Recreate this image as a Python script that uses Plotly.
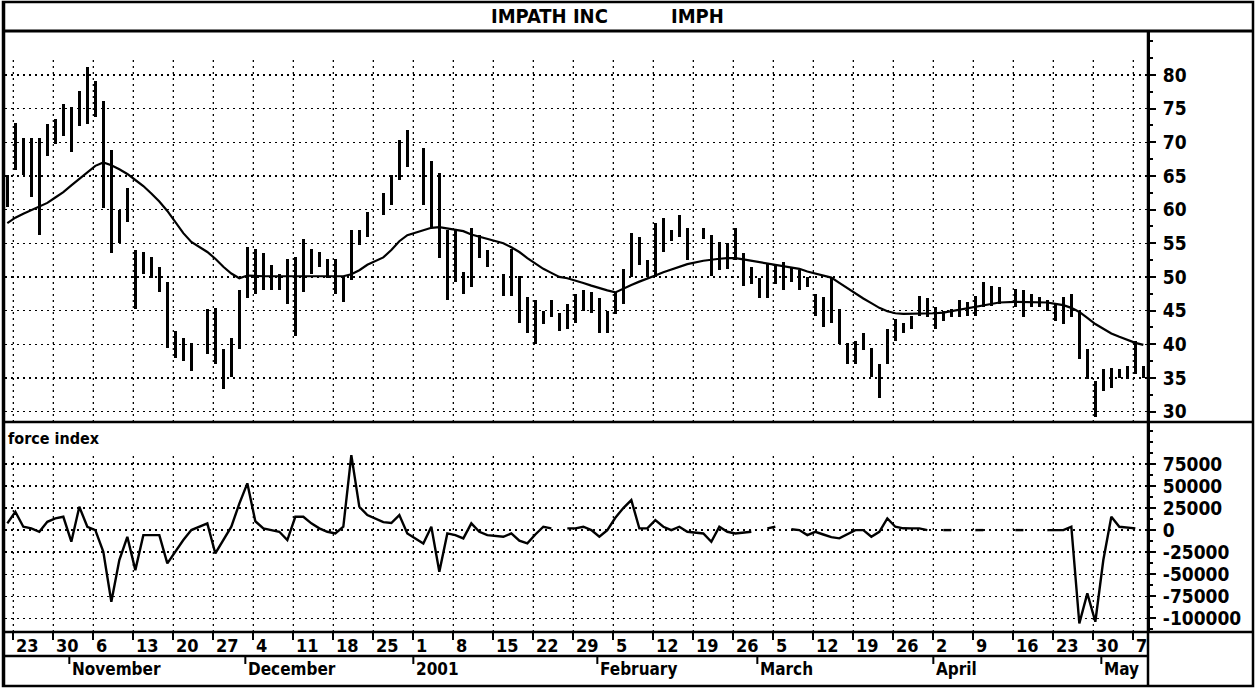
import pandas as pd
import plotly.graph_objects as go
from plotly.subplots import make_subplots

# ---------------- data ----------------
def _m(prefix, days):
    return [f"{prefix}-{d:02d}" for d in days]

dates = (_m("2000-10", [20, 23, 24, 25, 26, 27, 30, 31])
         + _m("2000-11", [1, 2, 3, 6, 7, 8, 9, 10, 13, 14, 15, 16, 17, 20, 21, 22, 24, 27, 28, 29, 30])
         + _m("2000-12", [1, 4, 5, 6, 7, 8, 11, 12, 13, 14, 15, 18, 19, 20, 21, 22, 26, 27, 28, 29])
         + _m("2001-01", [2, 3, 4, 5, 8, 9, 10, 11, 12, 16, 17, 18, 19, 22, 23, 24, 25, 26, 29, 30, 31])
         + _m("2001-02", [1, 2, 5, 6, 7, 8, 9, 12, 13, 14, 15, 16, 20, 21, 22, 23, 26, 27, 28])
         + _m("2001-03", [1, 2, 5, 6, 7, 8, 9, 12, 13, 14, 15, 16, 19, 20, 21, 22, 23, 26, 27, 28, 29, 30])
         + _m("2001-04", [2, 3, 4, 5, 6, 9, 10, 11, 12, 16, 17, 18, 19, 20, 23, 24, 25, 26, 27, 30])
         + _m("2001-05", [1, 2, 3, 4, 7, 8]))

highs = [65.2, 72.9, 70.7, 70.7, 70.7, 72.7, 73.4, 75.7,
         75.2, 77.6, 81.2, 79.1, 76.1, 68.9, 59.9, 63.2, 54.0, 53.7, 52.9, 51.4, 49.2, 42.0, 40.9, 40.2, 45.3, 45.4, 39.3, 40.9, 48.0,
         54.4, 54.2, 53.5, 51.7, 50.5, 52.7, 52.9, 55.7, 54.2, 53.7, 52.7, 52.7, 50.2, 57.0, 57.0, 59.6, 62.5, 65.2, 70.4, 71.9,
         69.2, 67.2, 65.5, 56.9, 56.9, 50.7, 57.2, 56.2, 54.0, 50.5, 54.2, 50.2, 47.0, 46.5, 45.0, 46.5, 44.7, 46.0, 47.5, 48.0, 47.7,
         46.8, 45.0, 47.7, 51.2, 56.5, 56.0, 52.5, 58.0, 58.7, 56.9, 59.2, 57.2, 57.2, 56.2, 55.2, 55.0, 57.2, 53.5, 51.5,
         49.8, 52.0, 51.7, 52.2, 51.5, 51.0, 50.0, 47.5, 47.0, 49.8, 45.3, 40.2, 40.5, 41.7, 39.5, 37.0, 42.2, 43.8, 43.2, 44.2, 47.2, 46.8,
         45.5, 45.0, 45.3, 46.5, 46.2, 47.2, 49.2, 48.7, 48.5, 48.2, 48.0, 47.5, 47.0, 46.5, 46.0, 47.0, 47.5, 45.0, 39.3, 34.5,
         36.3, 36.5, 36.3, 36.7, 40.5, 36.7]

lows = [60.4, 65.9, 65.2, 61.9, 56.2, 67.9, 69.7, 70.9,
        68.5, 72.4, 72.7, 73.7, 60.2, 53.6, 55.1, 58.1, 45.3, 50.5, 49.9, 47.7, 39.4, 38.0, 37.5, 36.0, 38.5, 37.0, 33.4, 35.2, 39.3,
        46.8, 47.5, 48.0, 48.0, 48.0, 46.0, 41.2, 47.7, 50.5, 51.4, 49.9, 47.5, 46.2, 49.5, 54.7, 55.9, 59.2, 60.7, 64.4, 66.4,
        60.7, 57.2, 52.8, 46.5, 49.2, 47.5, 48.5, 52.8, 51.5, 47.2, 47.2, 43.2, 41.7, 40.0, 43.0, 44.0, 42.0, 42.3, 43.2, 45.0, 44.7,
        41.7, 41.7, 44.5, 46.0, 50.0, 51.7, 50.0, 50.0, 53.7, 55.4, 55.9, 52.5, 55.7, 50.2, 51.0, 51.2, 52.5, 48.7, 49.0,
        46.8, 46.8, 49.0, 48.0, 49.2, 48.0, 48.5, 44.2, 42.5, 43.2, 40.0, 37.0, 37.0, 39.2, 35.2, 32.0, 37.0, 40.5, 41.7, 42.2, 44.2, 44.0,
        42.2, 43.5, 44.0, 44.0, 44.2, 44.2, 45.5, 45.7, 46.0, 45.5, 44.0, 45.5, 45.5, 45.0, 43.5, 43.0, 44.0, 37.8, 34.9, 29.2,
        33.0, 33.5, 35.0, 34.8, 35.5, 35.0]

moving_avg = [58.0, 58.8, 59.4, 59.9, 60.5, 61.0, 61.8, 62.6,
              63.6, 64.6, 65.6, 66.5, 67.0, 66.6, 66.0, 65.3, 64.4, 63.5, 62.4, 61.2, 59.8, 58.2, 56.5, 55.2, 53.7, 52.7, 51.5, 50.5, 49.8,
              50.2, 50.1, 50.1, 50.1, 50.1, 50.1, 50.1, 50.1, 50.1, 50.1, 50.1, 50.1, 50.1, 50.4, 51.0, 51.8, 52.9, 54.0, 55.3, 56.2,
              56.9, 57.3, 57.4, 57.2, 57.0, 56.8, 56.3, 56.0, 55.7, 55.0, 54.4, 53.7, 52.8, 52.0, 51.2, 50.6, 50.0, 49.8, 49.5, 49.1, 48.7,
              48.3, 48.0, 47.7, 48.3, 48.8, 49.3, 49.7, 50.2, 50.7, 51.1, 51.5, 51.9, 52.4, 52.6, 52.7, 52.8, 52.8, 52.6, 52.4,
              52.1, 51.9, 51.7, 51.5, 51.3, 51.2, 50.8, 50.5, 50.2, 49.9, 49.1, 48.3, 47.5, 46.8, 46.1, 45.4, 44.9, 44.6, 44.5, 44.5, 44.5, 44.6,
              44.6, 44.7, 44.9, 45.2, 45.4, 45.6, 45.8, 46.0, 46.2, 46.3, 46.3, 46.3, 46.2, 46.2, 46.0, 45.8, 45.4, 44.8, 43.9, 43.0,
              42.3, 41.6, 41.1, 40.6, 40.2, 39.9]

force_index = [7600, 20800, 3800, 1900, -1900, 9400, 13200, 15100,
               -13200, 26400, 3800, 0, -24600, -81300, -34000, -7600, -45400, -5700, -5700, -5700, -37800, -24600, -11300, 0, 7600, -26500, -11300, 3800, 30000,
               53000, 10000, 2000, 0, -1900, -11300, 15100, 15100, 7600, 2000, -1900, -3800, 3800, 85000, 26400, 17000, 9000, 8000, 17000, -3800,
               -15100, 3800, -47300, -3800, -5700, -9400, 7600, -1900, -5700, -7600, -3800, -12000, -15100, -5000, 3800, 1900, None, 1900, 1900, 3800, 0,
               -7600, 0, 14000, 25000, 34000, 1900, 1900, 11300, 3800, 0, 3800, -1900, -3800, -13200, 3800, -1900, -3800, -3000, -1900,
               None, 1900, 3800, None, 1000, 0, -5700, -2000, -5000, -8000, -9400, -5000, 0, 0, -7600, -2000, 13200, 3800, 2000, 1900, 1900, 0,
               None, 0, 0, None, None, 0, 0, None, None, 0, 0, None, None, 0, 0, 0, 3800, -105800, -71800, -104000,
               -34000, 15100, 3800, 3000, 1900, None]

week_ticks = ["2000-10-23", "2000-10-30", "2000-11-06", "2000-11-13", "2000-11-20", "2000-11-27",
              "2000-12-04", "2000-12-11", "2000-12-18", "2000-12-25", "2001-01-01", "2001-01-08",
              "2001-01-15", "2001-01-22", "2001-01-29", "2001-02-05", "2001-02-12", "2001-02-19",
              "2001-02-26", "2001-03-05", "2001-03-12", "2001-03-19", "2001-03-26", "2001-04-02",
              "2001-04-09", "2001-04-16", "2001-04-23", "2001-04-30", "2001-05-07"]
week_labels = ["23", "30", "6", "13", "20", "27", "4", "11", "18", "25", "1", "8", "15", "22", "29",
               "5", "12", "19", "26", "5", "12", "19", "26", "2", "9", "16", "23", "30", "7"]
month_ticks = ["2000-11-01", "2000-12-01", "2001-01-01", "2001-02-01", "2001-03-01", "2001-04-02", "2001-05-01"]
month_labels = ["November", "December", "2001", "February", "March", "April", "May"]
price_ticks = [30, 35, 40, 45, 50, 55, 60, 65, 70, 75, 80]
force_ticks = [-100000, -75000, -50000, -25000, 0, 25000, 50000, 75000]
force_labels = ["-100000", "-75000", "-50000", "-25000", "0", "25000", "50000", "75000"]
title_name = "IMPATH INC"
title_symbol = "IMPH"
panel_label = "force index"

assert len(dates) == len(highs) == len(lows) == len(moving_avg) == len(force_index)

# ---------------- figure ----------------
W, H = 1257, 689
L, R, T, B = 5, 1148, 31, 632          # plot area in pixels
def fx(px):
    return (px - L) / (R - L)
def fy(py):
    return (B - py) / (B - T)

FONT = "Liberation Sans Narrow, DejaVu Sans Condensed, Liberation Sans, Arial"
INK = "black"
DOT = "2px,4px"

xdates = pd.to_datetime(dates) + pd.Timedelta(hours=6)
price_range = [28.44, 86.54]
force_range = [-115600, 122600]
x_range = ["2000-10-19 23:00", "2001-05-08 20:00"]

fig = make_subplots(rows=2, cols=1, shared_xaxes=True, vertical_spacing=0,
                    row_heights=[391, 210])

fig.add_trace(go.Bar(x=xdates, y=[h - l for h, l in zip(highs, lows)], base=lows,
                     width=0.38 * 86400000, marker=dict(color=INK, line=dict(width=0)),
                     showlegend=False, hoverinfo="skip"), row=1, col=1)
fig.add_trace(go.Scatter(x=xdates, y=moving_avg, mode="lines",
                         line=dict(color=INK, width=2.2), showlegend=False), row=1, col=1)
fig.add_trace(go.Scatter(x=xdates, y=force_index, mode="lines", connectgaps=False,
                         line=dict(color=INK, width=2.4), showlegend=False), row=2, col=1)

rb = [dict(bounds=["sat", "mon"])]
fig.update_xaxes(type="date", range=x_range, rangebreaks=rb, showgrid=False,
                 zeroline=False, showline=False, fixedrange=True)
fig.update_xaxes(row=1, col=1, ticks="", showticklabels=False)
fig.update_xaxes(row=2, col=1, tickvals=week_ticks, ticks="outside", ticklen=7,
                 tickwidth=2, tickcolor=INK, showticklabels=False)

yaxis_common = dict(side="right", ticks="outside", ticklen=6, tickwidth=2, tickcolor=INK,
                    showgrid=True, gridcolor=INK, gridwidth=1.3, griddash=DOT,
                    showline=True, linecolor=INK, linewidth=2, zeroline=False,
                    tickfont=dict(family=FONT, size=19, color=INK, weight="bold"),
                    ticklabelstandoff=3, fixedrange=True)
fig.update_yaxes(row=1, col=1, range=price_range, tickvals=price_ticks,
                 minor=dict(dtick=2.5, tick0=0, ticks="outside", ticklen=3, tickwidth=2,
                            tickcolor=INK, showgrid=False),
                 **yaxis_common)
fig.update_yaxes(row=2, col=1, range=force_range, tickvals=force_ticks, ticktext=force_labels,
                 minor=dict(dtick=12500, tick0=0, ticks="outside", ticklen=3, tickwidth=2,
                            tickcolor=INK, showgrid=False),
                 **yaxis_common)

shapes = []
# vertical dotted weekly grid
for d in week_ticks:
    shapes.append(dict(type="line", xref="x", yref="y", x0=d, x1=d, y0=price_range[0], y1=82.5,
                       line=dict(color=INK, width=1.3, dash=DOT), layer="below"))
    shapes.append(dict(type="line", xref="x2", yref="y2", x0=d, x1=d, y0=force_range[0], y1=88000,
                       line=dict(color=INK, width=1.3, dash=DOT), layer="below"))
# month tick marks
for d in month_ticks:
    shapes.append(dict(type="line", xref="x2", yref="paper", x0=d, x1=d, y0=fy(657), y1=fy(664),
                       line=dict(color=INK, width=2)))
# frame and separators
frame = dict(color=INK, width=2.5)
shapes += [
    dict(type="rect", xref="paper", yref="paper", x0=fx(3), x1=fx(1253), y0=fy(686), y1=fy(2), line=frame),
    dict(type="line", xref="paper", yref="paper", x0=fx(3), x1=fx(1253), y0=fy(31), y1=fy(31), line=dict(color=INK, width=3)),
    dict(type="line", xref="paper", yref="paper", x0=fx(3), x1=fx(1253), y0=fy(422), y1=fy(422), line=frame),
    dict(type="line", xref="paper", yref="paper", x0=fx(3), x1=fx(1253), y0=fy(632), y1=fy(632), line=frame),
    dict(type="line", xref="paper", yref="paper", x0=fx(3), x1=fx(1148), y0=fy(656), y1=fy(656), line=frame),
    dict(type="line", xref="paper", yref="paper", x0=fx(1148), x1=fx(1148), y0=fy(686), y1=fy(31), line=frame),
    dict(type="line", xref="paper", yref="paper", x0=fx(4), x1=fx(4), y0=fy(686), y1=fy(2), line=frame),
]

annotations = []
for d, lab in zip(week_ticks, week_labels):
    annotations.append(dict(x=d, xref="x2", y=fy(645), yref="paper", text=lab, showarrow=False,
                            xanchor="left", yanchor="middle", xshift=1,
                            font=dict(family=FONT, size=18, color=INK, weight="bold")))
for d, lab in zip(month_ticks, month_labels):
    annotations.append(dict(x=d, xref="x2", y=fy(669), yref="paper", text=lab, showarrow=False,
                            xanchor="left", yanchor="middle", xshift=1,
                            font=dict(family=FONT, size=17, color=INK, weight="bold")))
annotations.append(dict(x=fx(549), xref="paper", y=fy(16), yref="paper", text=title_name,
                        showarrow=False, xanchor="center", yanchor="middle",
                        font=dict(family=FONT, size=20, color=INK, weight="bold")))
annotations.append(dict(x=fx(697), xref="paper", y=fy(16), yref="paper", text=title_symbol,
                        showarrow=False, xanchor="center", yanchor="middle",
                        font=dict(family=FONT, size=20, color=INK, weight="bold")))
annotations.append(dict(x=fx(6), xref="paper", y=fy(438), yref="paper", text=panel_label,
                        showarrow=False, xanchor="left", yanchor="middle",
                        font=dict(family=FONT, size=16, color=INK, weight="bold")))

fig.update_layout(width=W, height=H, margin=dict(l=L, r=W - R, t=T, b=H - B),
                  paper_bgcolor="white", plot_bgcolor="white", showlegend=False,
                  bargap=0, shapes=shapes, annotations=annotations, hovermode=False)

fig.write_html("out.html", config={"displayModeBar": False, "staticPlot": True},
               post_script="document.body.style.margin='0';document.body.style.padding='0';")
